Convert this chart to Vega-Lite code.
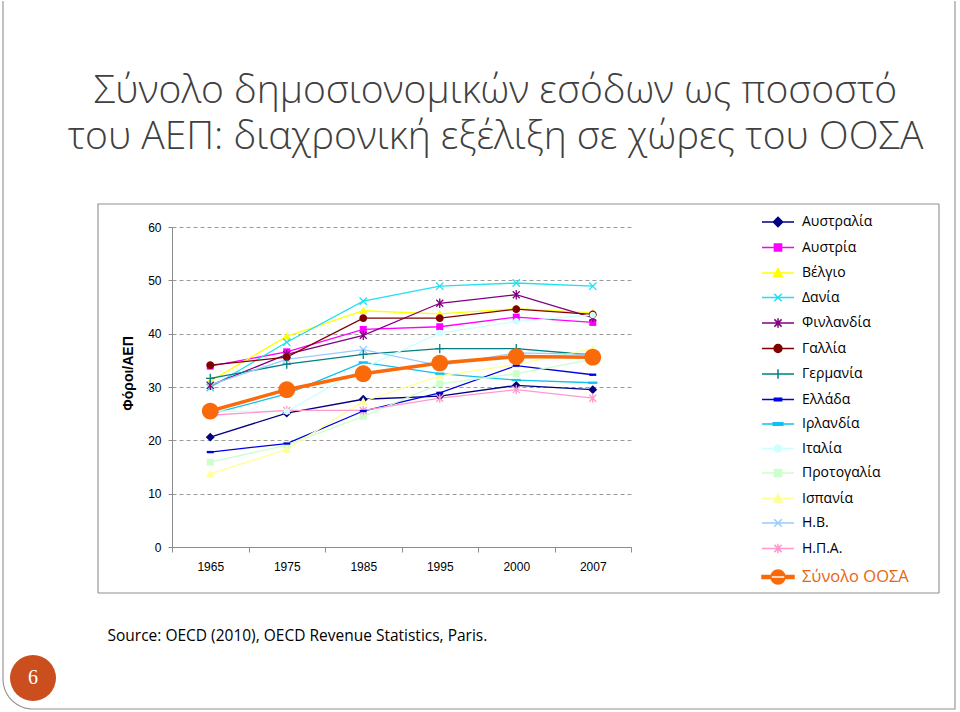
{
  "$schema": "https://vega.github.io/schema/vega-lite/v6.json",
  "width": 459,
  "height": 320,
  "autosize": {"type": "none"},
  "padding": {"left": 172, "top": 227, "right": 329, "bottom": 165},
  "background": "white",
  "title": {
    "text": ["Σύνολο δημοσιονομικών εσόδων ως ποσοστό", "του ΑΕΠ: διαχρονική εξέλιξη σε χώρες του ΟΟΣΑ"],
    "font": "Open Sans", "fontSize": 39, "fontWeight": 300, "color": "#404040",
    "anchor": "middle", "frame": "group", "dx": 94, "offset": 45, "lineHeight": 46
  },
  "data": {"values": [
    {"country": "Αυστραλία", "year": "1965", "value": 20.6},
    {"country": "Αυστραλία", "year": "1975", "value": 25.1},
    {"country": "Αυστραλία", "year": "1985", "value": 27.7},
    {"country": "Αυστραλία", "year": "1995", "value": 28.3},
    {"country": "Αυστραλία", "year": "2000", "value": 30.3},
    {"country": "Αυστραλία", "year": "2007", "value": 29.5},
    {"country": "Αυστρία", "year": "1965", "value": 33.9},
    {"country": "Αυστρία", "year": "1975", "value": 36.6},
    {"country": "Αυστρία", "year": "1985", "value": 40.8},
    {"country": "Αυστρία", "year": "1995", "value": 41.3},
    {"country": "Αυστρία", "year": "2000", "value": 43.1},
    {"country": "Αυστρία", "year": "2007", "value": 42.1},
    {"country": "Βέλγιο", "year": "1965", "value": 31.1},
    {"country": "Βέλγιο", "year": "1975", "value": 39.5},
    {"country": "Βέλγιο", "year": "1985", "value": 44.3},
    {"country": "Βέλγιο", "year": "1995", "value": 43.7},
    {"country": "Βέλγιο", "year": "2000", "value": 44.7},
    {"country": "Βέλγιο", "year": "2007", "value": 43.9},
    {"country": "Δανία", "year": "1965", "value": 29.9},
    {"country": "Δανία", "year": "1975", "value": 38.4},
    {"country": "Δανία", "year": "1985", "value": 46.1},
    {"country": "Δανία", "year": "1995", "value": 48.9},
    {"country": "Δανία", "year": "2000", "value": 49.5},
    {"country": "Δανία", "year": "2007", "value": 48.9},
    {"country": "Φινλανδία", "year": "1965", "value": 30.3},
    {"country": "Φινλανδία", "year": "1975", "value": 36.1},
    {"country": "Φινλανδία", "year": "1985", "value": 39.7},
    {"country": "Φινλανδία", "year": "1995", "value": 45.7},
    {"country": "Φινλανδία", "year": "2000", "value": 47.3},
    {"country": "Φινλανδία", "year": "2007", "value": 43.0},
    {"country": "Γαλλία", "year": "1965", "value": 34.1},
    {"country": "Γαλλία", "year": "1975", "value": 35.6},
    {"country": "Γαλλία", "year": "1985", "value": 42.9},
    {"country": "Γαλλία", "year": "1995", "value": 42.9},
    {"country": "Γαλλία", "year": "2000", "value": 44.6},
    {"country": "Γαλλία", "year": "2007", "value": 43.6},
    {"country": "Γερμανία", "year": "1965", "value": 31.6},
    {"country": "Γερμανία", "year": "1975", "value": 34.3},
    {"country": "Γερμανία", "year": "1985", "value": 36.1},
    {"country": "Γερμανία", "year": "1995", "value": 37.2},
    {"country": "Γερμανία", "year": "2000", "value": 37.2},
    {"country": "Γερμανία", "year": "2007", "value": 36.0},
    {"country": "Ελλάδα", "year": "1965", "value": 17.8},
    {"country": "Ελλάδα", "year": "1975", "value": 19.4},
    {"country": "Ελλάδα", "year": "1985", "value": 25.5},
    {"country": "Ελλάδα", "year": "1995", "value": 28.9},
    {"country": "Ελλάδα", "year": "2000", "value": 34.0},
    {"country": "Ελλάδα", "year": "2007", "value": 32.3},
    {"country": "Ιρλανδία", "year": "1965", "value": 24.9},
    {"country": "Ιρλανδία", "year": "1975", "value": 28.7},
    {"country": "Ιρλανδία", "year": "1985", "value": 34.6},
    {"country": "Ιρλανδία", "year": "1995", "value": 32.5},
    {"country": "Ιρλανδία", "year": "2000", "value": 31.3},
    {"country": "Ιρλανδία", "year": "2007", "value": 30.8},
    {"country": "Ιταλία", "year": "1965", "value": 25.5},
    {"country": "Ιταλία", "year": "1975", "value": 25.4},
    {"country": "Ιταλία", "year": "1985", "value": 33.6},
    {"country": "Ιταλία", "year": "1995", "value": 40.1},
    {"country": "Ιταλία", "year": "2000", "value": 42.3},
    {"country": "Ιταλία", "year": "2007", "value": 43.5},
    {"country": "Προτογαλία", "year": "1965", "value": 15.9},
    {"country": "Προτογαλία", "year": "1975", "value": 19.1},
    {"country": "Προτογαλία", "year": "1985", "value": 24.5},
    {"country": "Προτογαλία", "year": "1995", "value": 30.6},
    {"country": "Προτογαλία", "year": "2000", "value": 32.5},
    {"country": "Προτογαλία", "year": "2007", "value": 35.2},
    {"country": "Ισπανία", "year": "1965", "value": 13.7},
    {"country": "Ισπανία", "year": "1975", "value": 18.3},
    {"country": "Ισπανία", "year": "1985", "value": 27.3},
    {"country": "Ισπανία", "year": "1995", "value": 32.1},
    {"country": "Ισπανία", "year": "2000", "value": 34.2},
    {"country": "Ισπανία", "year": "2007", "value": 37.2},
    {"country": "Η.Β.", "year": "1965", "value": 30.4},
    {"country": "Η.Β.", "year": "1975", "value": 35.2},
    {"country": "Η.Β.", "year": "1985", "value": 37.0},
    {"country": "Η.Β.", "year": "1995", "value": 34.0},
    {"country": "Η.Β.", "year": "2000", "value": 36.4},
    {"country": "Η.Β.", "year": "2007", "value": 36.1},
    {"country": "Η.Π.Α.", "year": "1965", "value": 24.7},
    {"country": "Η.Π.Α.", "year": "1975", "value": 25.6},
    {"country": "Η.Π.Α.", "year": "1985", "value": 25.6},
    {"country": "Η.Π.Α.", "year": "1995", "value": 27.9},
    {"country": "Η.Π.Α.", "year": "2000", "value": 29.5},
    {"country": "Η.Π.Α.", "year": "2007", "value": 27.9},
    {"country": "Σύνολο ΟΟΣΑ", "year": "1965", "value": 25.5},
    {"country": "Σύνολο ΟΟΣΑ", "year": "1975", "value": 29.5},
    {"country": "Σύνολο ΟΟΣΑ", "year": "1985", "value": 32.5},
    {"country": "Σύνολο ΟΟΣΑ", "year": "1995", "value": 34.5},
    {"country": "Σύνολο ΟΟΣΑ", "year": "2000", "value": 35.7},
    {"country": "Σύνολο ΟΟΣΑ", "year": "2007", "value": 35.6}
  ]},
  "layer": [
    {
      "mark": {"type": "line", "strokeWidth": 1.3},
      "encoding": {
        "x": {
          "field": "year", "type": "ordinal", "sort": null,
          "scale": {"type": "band", "paddingInner": 0, "paddingOuter": 0},
          "axis": {
            "labelAngle": 0, "tickBand": "extent", "grid": false,
            "domainColor": "#8c8c8c", "tickColor": "#8c8c8c", "tickSize": 5,
            "labelFont": "Liberation Sans", "labelFontSize": 12, "labelColor": "#000000", "labelPadding": 9,
            "title": "Source: OECD (2010), OECD Revenue Statistics, Paris.",
            "titleFont": "Open Sans", "titleFontSize": 15.5, "titleFontWeight": "normal", "titleColor": "#000000",
            "titleX": -65, "titleY": 93, "titleAlign": "left", "titleAnchor": "start", "titleBaseline": "alphabetic"
          }
        },
        "y": {
          "field": "value", "type": "quantitative",
          "scale": {"domain": [0, 60], "nice": false},
          "axis": {
            "values": [0, 10, 20, 30, 40, 50, 60], "grid": true, "gridDash": [4, 3], "gridColor": "#9a9a9a",
            "domainColor": "#8c8c8c", "tickColor": "#8c8c8c", "tickSize": 4,
            "labelFont": "Liberation Sans", "labelFontSize": 12, "labelColor": "#000000", "labelPadding": 7,
            "title": "Φόροι/ΑΕΠ", "titleFont": "Liberation Sans", "titleFontSize": 14, "titleFontWeight": "bold",
            "titleColor": "#000000", "titleX": -37, "titleY": 146
          }
        },
        "color": {
          "field": "country", "type": "nominal",
          "scale": {
            "domain": ["Αυστραλία", "Αυστρία", "Βέλγιο", "Δανία", "Φινλανδία", "Γαλλία", "Γερμανία", "Ελλάδα", "Ιρλανδία", "Ιταλία", "Προτογαλία", "Ισπανία", "Η.Β.", "Η.Π.Α.", "Σύνολο ΟΟΣΑ"],
            "range": ["#000080", "#FF00FF", "#FFFF00", "#22E0F0", "#800080", "#800000", "#008080", "#0000E6", "#10C0F0", "#CCFFFF", "#CCFFCC", "#FFFF99", "#99CCFF", "#FF99CC", "#FA6A0A"]
          },
          "legend": {
            "orient": "none", "legendX": 599, "legendY": -12, "direction": "vertical", "title": null, "padding": 0,
            "symbolSize": 64, "symbolStrokeWidth": 1.5, "symbolOpacity": 1, "labelOffset": 17, "rowPadding": 10.5,
            "labelFont": "Open Sans", "labelLimit": 300,
            "labelFontSize": {"expr": "datum.value === 'Σύνολο ΟΟΣΑ' ? 16.5 : 14"},
            "labelColor": {"expr": "datum.value === 'Σύνολο ΟΟΣΑ' ? '#E8650F' : '#000000'"}
          }
        }
      }
    },
    {
      "transform": [{"filter": {"field": "country", "equal": "Σύνολο ΟΟΣΑ"}}],
      "mark": {"type": "line", "strokeWidth": 3.5},
      "encoding": {
        "x": {"field": "year", "type": "ordinal", "sort": null},
        "y": {"field": "value", "type": "quantitative"},
        "color": {"field": "country", "type": "nominal", "legend": null}
      }
    },
    {
      "transform": [{"filter": {"field": "country", "oneOf": ["Αυστραλία"]}}],
      "mark": {"type": "point", "shape": "M0,-1.15L1.15,0L0,1.15L-1.15,0Z", "filled": true, "size": 60, "opacity": 1, "strokeWidth": 1.2},
      "encoding": {"x": {"field": "year", "type": "ordinal", "sort": null}, "y": {"field": "value", "type": "quantitative"}, "color": {"field": "country", "type": "nominal", "legend": null}}
    },
    {
      "transform": [{"filter": {"field": "country", "oneOf": ["Αυστρία", "Προτογαλία"]}}],
      "mark": {"type": "point", "shape": "M-0.9,-0.9H0.9V0.9H-0.9Z", "filled": true, "size": 60, "opacity": 1, "strokeWidth": 1.2},
      "encoding": {"x": {"field": "year", "type": "ordinal", "sort": null}, "y": {"field": "value", "type": "quantitative"}, "color": {"field": "country", "type": "nominal", "legend": null}}
    },
    {
      "transform": [{"filter": {"field": "country", "oneOf": ["Βέλγιο", "Ισπανία"]}}],
      "mark": {"type": "point", "shape": "M0,-1.1L1.1,0.85H-1.1Z", "filled": true, "size": 60, "opacity": 1, "strokeWidth": 1.2},
      "encoding": {"x": {"field": "year", "type": "ordinal", "sort": null}, "y": {"field": "value", "type": "quantitative"}, "color": {"field": "country", "type": "nominal", "legend": null}}
    },
    {
      "transform": [{"filter": {"field": "country", "oneOf": ["Δανία", "Η.Β."]}}],
      "mark": {"type": "point", "shape": "M-0.95,-0.95L0.95,0.95M-0.95,0.95L0.95,-0.95", "filled": false, "size": 60, "opacity": 1, "strokeWidth": 1.3},
      "encoding": {"x": {"field": "year", "type": "ordinal", "sort": null}, "y": {"field": "value", "type": "quantitative"}, "color": {"field": "country", "type": "nominal", "legend": null}}
    },
    {
      "transform": [{"filter": {"field": "country", "oneOf": ["Φινλανδία", "Η.Π.Α."]}}],
      "mark": {"type": "point", "shape": "M-0.9,-0.9L0.9,0.9M-0.9,0.9L0.9,-0.9M0,-1.2V1.2", "filled": false, "size": 60, "opacity": 1, "strokeWidth": 1.3},
      "encoding": {"x": {"field": "year", "type": "ordinal", "sort": null}, "y": {"field": "value", "type": "quantitative"}, "color": {"field": "country", "type": "nominal", "legend": null}}
    },
    {
      "transform": [{"filter": {"field": "country", "oneOf": ["Γαλλία"]}}],
      "mark": {"type": "point", "shape": "M-1,0A1,1,0,1,0,1,0A1,1,0,1,0,-1,0Z", "filled": true, "size": 60, "opacity": 1, "strokeWidth": 1.2},
      "encoding": {"x": {"field": "year", "type": "ordinal", "sort": null}, "y": {"field": "value", "type": "quantitative"}, "color": {"field": "country", "type": "nominal", "legend": null}}
    },
    {
      "transform": [{"filter": {"field": "country", "oneOf": ["Γερμανία"]}}],
      "mark": {"type": "point", "shape": "M0,-1.2V1.2M-1.1,0H1.1", "filled": false, "size": 60, "opacity": 1, "strokeWidth": 1.3},
      "encoding": {"x": {"field": "year", "type": "ordinal", "sort": null}, "y": {"field": "value", "type": "quantitative"}, "color": {"field": "country", "type": "nominal", "legend": null}}
    },
    {
      "transform": [{"filter": {"field": "country", "oneOf": ["Ελλάδα"]}}],
      "mark": {"type": "point", "shape": "M-0.9,-0.3H0.9V0.3H-0.9Z", "filled": true, "size": 60, "opacity": 1, "strokeWidth": 1.2},
      "encoding": {"x": {"field": "year", "type": "ordinal", "sort": null}, "y": {"field": "value", "type": "quantitative"}, "color": {"field": "country", "type": "nominal", "legend": null}}
    },
    {
      "transform": [{"filter": {"field": "country", "oneOf": ["Ιρλανδία"]}}],
      "mark": {"type": "point", "shape": "M-1.2,-0.3H1.2V0.3H-1.2Z", "filled": true, "size": 60, "opacity": 1, "strokeWidth": 1.2},
      "encoding": {"x": {"field": "year", "type": "ordinal", "sort": null}, "y": {"field": "value", "type": "quantitative"}, "color": {"field": "country", "type": "nominal", "legend": null}}
    },
    {
      "transform": [{"filter": {"field": "country", "oneOf": ["Ιταλία"]}}],
      "mark": {"type": "point", "shape": "M-0.85,0A0.85,0.85,0,1,0,0.85,0A0.85,0.85,0,1,0,-0.85,0Z", "filled": true, "size": 60, "opacity": 1, "strokeWidth": 1.2},
      "encoding": {"x": {"field": "year", "type": "ordinal", "sort": null}, "y": {"field": "value", "type": "quantitative"}, "color": {"field": "country", "type": "nominal", "legend": null}}
    },
    {
      "transform": [{"filter": {"field": "country", "oneOf": ["Σύνολο ΟΟΣΑ"]}}],
      "mark": {"type": "point", "shape": "M-1,0A1,1,0,1,0,1,0A1,1,0,1,0,-1,0Z", "filled": true, "size": 280, "opacity": 1, "strokeWidth": 1.2},
      "encoding": {"x": {"field": "year", "type": "ordinal", "sort": null}, "y": {"field": "value", "type": "quantitative"}, "color": {"field": "country", "type": "nominal", "legend": null}}
    },
    {
      "mark": {"type": "point", "filled": true, "size": 0, "opacity": 1, "strokeWidth": 1.5},
      "encoding": {
        "x": {"field": "year", "type": "ordinal", "sort": null},
        "y": {"field": "value", "type": "quantitative"},
        "color": {"field": "country", "type": "nominal", "legend": null},
        "stroke": {
          "field": "country", "type": "nominal", "legend": null,
          "scale": {
            "domain": ["Αυστραλία", "Αυστρία", "Βέλγιο", "Δανία", "Φινλανδία", "Γαλλία", "Γερμανία", "Ελλάδα", "Ιρλανδία", "Ιταλία", "Προτογαλία", "Ισπανία", "Η.Β.", "Η.Π.Α.", "Σύνολο ΟΟΣΑ"],
            "range": ["#000080", "#FF00FF", "#FFFF00", "#22E0F0", "#800080", "#800000", "#008080", "#0000E6", "#10C0F0", "#CCFFFF", "#CCFFCC", "#FFFF99", "#99CCFF", "#FF99CC", "#FA6A0A"]
          }
        },
        "shape": {
          "field": "country", "type": "nominal", "legend": null,
          "scale": {
            "domain": ["Αυστραλία", "Αυστρία", "Βέλγιο", "Δανία", "Φινλανδία", "Γαλλία", "Γερμανία", "Ελλάδα", "Ιρλανδία", "Ιταλία", "Προτογαλία", "Ισπανία", "Η.Β.", "Η.Π.Α.", "Σύνολο ΟΟΣΑ"],
            "range": ["M-4,0H4M0,-1.15L1.15,0L0,1.15L-1.15,0Z", "M-4,0H4M-0.9,-0.9H0.9V0.9H-0.9Z", "M-4,0H4M0,-1.1L1.1,0.85H-1.1Z", "M-4,0H4M-0.95,-0.95L0.95,0.95M-0.95,0.95L0.95,-0.95", "M-4,0H4M-0.9,-0.9L0.9,0.9M-0.9,0.9L0.9,-0.9M0,-1.2V1.2", "M-4,0H4M-1,0A1,1,0,1,0,1,0A1,1,0,1,0,-1,0Z", "M-4,0H4M0,-1.2V1.2", "M-4,0H4M-0.9,-0.3H0.9V0.3H-0.9Z", "M-4,0H4M-1.2,-0.3H1.2V0.3H-1.2Z", "M-4,0H4M-0.85,0A0.85,0.85,0,1,0,0.85,0A0.85,0.85,0,1,0,-0.85,0Z", "M-4,0H4M-0.9,-0.9H0.9V0.9H-0.9Z", "M-4,0H4M0,-1.1L1.1,0.85H-1.1Z", "M-4,0H4M-0.95,-0.95L0.95,0.95M-0.95,0.95L0.95,-0.95", "M-4,0H4M-0.9,-0.9L0.9,0.9M-0.9,0.9L0.9,-0.9M0,-1.2V1.2", "M-4,-0.4H4V0.4H-4ZM-1.75,0A1.75,1.75,0,1,0,1.75,0A1.75,1.75,0,1,0,-1.75,0Z"]
          }
        }
      }
    },
    {
      "data": {"values": [{"page": "6"}]},
      "mark": {"type": "point", "filled": true, "size": 0, "opacity": 1},
      "encoding": {
        "fill": {
          "field": "page", "type": "nominal",
          "scale": {"range": ["#CB4E1E"]},
          "legend": {
            "orient": "none", "legendX": -162, "legendY": 428, "title": null, "direction": "vertical", "padding": 0,
            "symbolType": "circle", "symbolSize": 2116, "symbolStrokeWidth": 0, "symbolOpacity": 1,
            "labelColor": "#FFFFFF", "labelFont": "Liberation Serif", "labelFontSize": 20, "labelAlign": "center", "labelOffset": -23
          }
        }
      }
    },
    {
      "data": {"values": [{"deco": "frame"}]},
      "mark": {"type": "point", "filled": false, "size": 0, "opacity": 1},
      "encoding": {
        "strokeDash": {
          "field": "deco", "type": "nominal",
          "scale": {"range": [[1, 0]]},
          "legend": {
            "orient": "none", "legendX": -76, "legendY": -25, "title": null, "direction": "vertical", "padding": 0,
            "symbolType": "M0,0H841V389H0ZM-95,-203V475A30,30,0,0,0,-65,505H857V-203",
            "symbolSize": 4, "symbolStrokeColor": "#8f8f8f", "symbolStrokeWidth": 1.1, "symbolFillColor": "transparent", "symbolOpacity": 1,
            "labelExpr": "''", "labelFontSize": 1
          }
        }
      }
    }
  ],
  "config": {"view": {"stroke": null}}
}
